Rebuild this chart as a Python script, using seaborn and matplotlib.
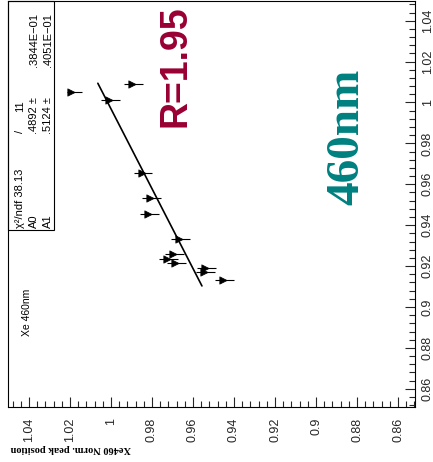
import matplotlib
matplotlib.use("Agg")
import matplotlib.pyplot as plt
import matplotlib.ticker as mticker
import numpy as np
import seaborn as sns
from matplotlib.patches import Rectangle

# Xe 460nm points: xe_x is the vertical (right) axis, xe_y the horizontal one
xe_x = [1.0090, 1.0053, 1.0012, 0.9654, 0.9534, 0.9453, 0.9333,
        0.9258, 0.9233, 0.9217, 0.9189, 0.9173, 0.9132]
xe_y = [0.9899, 1.0195, 1.0008, 0.9850, 0.9810, 0.9818, 0.9667,
        0.9696, 0.9725, 0.9688, 0.9541, 0.9546, 0.9455]
# asymmetric errors on xe_y (lower, upper)
err_lo = [0.0055, 0.0054, 0.0050, 0.0052, 0.0052, 0.0052, 0.0053,
          0.0052, 0.0050, 0.0052, 0.0054, 0.0054, 0.0054]
err_hi = [0.0040, 0.0020, 0.0040, 0.0040, 0.0040, 0.0040, 0.0040,
          0.0040, 0.0040, 0.0040, 0.0040, 0.0040, 0.0040]

# linear fit result  y = A0 + A1 * x
fit_a0 = 0.4892
fit_a1 = 0.5124
fit_lo, fit_hi = 0.9103, 1.0094

stats_rows = [
    ("χ²/ndf 38.13", "/", "11"),
    ("A0", ".4892 ±", ".3844E−01"),
    ("A1", ".5124 ±", ".4051E−01"),
]

W, H = 433, 462

sns.set_theme(style="white")
plt.rcParams['font.family'] = ['Liberation Sans', 'DejaVu Sans']

fig = plt.figure(figsize=(W / 100, H / 100), dpi=100)
ax = fig.add_axes([8 / W, (H - 407) / H, (415 - 8) / W, (407 - 1) / H])


def fx(px):
    return px / W


def fy(py):
    return 1 - py / H


# error bars + markers
ax.errorbar(xe_y, xe_x, xerr=[err_lo, err_hi], fmt='none',
            ecolor='black', elinewidth=0.8, capsize=0, zorder=2)
sns.scatterplot(x=xe_y, y=xe_x, marker='>', s=28, color='black',
                edgecolor='black', linewidth=0.5, legend=False, ax=ax, zorder=3)

# fit line
fit_v = np.array([fit_lo, fit_hi])
fit_h = fit_a0 + fit_a1 * fit_v
sns.lineplot(x=fit_h, y=fit_v, sort=False, estimator=None,
             color='black', linewidth=1.2, ax=ax)

ax.set_xlim(1.05024, 0.85171)
ax.set_ylim(0.85110, 1.04963)

fmt = mticker.FuncFormatter(lambda v, p: f"{v:g}")
for axis in (ax.xaxis, ax.yaxis):
    axis.set_major_locator(mticker.MultipleLocator(0.02))
    axis.set_minor_locator(mticker.AutoMinorLocator(5))
    axis.set_major_formatter(fmt)

ax.yaxis.tick_right()
ax.tick_params(axis='x', which='both', direction='in', bottom=True, top=False,
               labelsize=9, labelrotation=90, pad=8, width=0.8)
ax.tick_params(axis='y', which='both', direction='in', right=True, left=False,
               labelsize=9, labelrotation=90, pad=5, width=0.8)
ax.tick_params(which='major', length=7)
ax.tick_params(which='minor', length=4)
fig.canvas.draw()
plt.setp(ax.get_yticklabels(), va='center')

for s in ax.spines.values():
    s.set_color('black')
    s.set_linewidth(0.8)

ax.set_xlabel('')
ax.set_ylabel('')

# stats box
ax.add_patch(Rectangle((0, (407 - 230) / 406), (54 - 8) / 407, 1 - (407 - 230) / 406,
                       transform=ax.transAxes, fill=False, edgecolor='black',
                       linewidth=0.8, clip_on=False, zorder=5))
line_x = [20, 34, 48]
for (name, mid, val), lx in zip(stats_rows, line_x):
    fig.text(fx(lx), fy(228), name, rotation=90, rotation_mode='anchor',
             ha='left', va='center', fontsize=8, color='black')
    if mid == "/":
        fig.text(fx(lx), fy(131), mid, rotation=90, rotation_mode='anchor',
                 ha='center', va='center', fontsize=8, color='black')
        fig.text(fx(lx), fy(100), val, rotation=90, rotation_mode='anchor',
                 ha='right', va='center', fontsize=8, color='black')
    else:
        fig.text(fx(lx), fy(97), mid, rotation=90, rotation_mode='anchor',
                 ha='right', va='center', fontsize=8, color='black')
        fig.text(fx(lx), fy(13), val, rotation=90, rotation_mode='anchor',
                 ha='right', va='center', fontsize=8, color='black')

fig.text(fx(27), fy(312), 'Xe 460nm', rotation=90, rotation_mode='anchor',
         ha='center', va='center', fontsize=7.5, color='black')

fig.text(fx(175), fy(66), 'R=1.95', rotation=90, rotation_mode='anchor',
         ha='center', va='center', fontsize=27, fontweight='bold',
         color='#990033', family='Liberation Sans')

fig.text(fx(347), fy(137), '460nm', rotation=90, rotation_mode='anchor',
         ha='center', va='center', fontsize=34, fontweight='bold',
         color='#008080', family='Liberation Serif')

fig.text(fx(71), fy(448), 'Xe460 Norm. peak position', rotation=180,
         ha='center', va='center', fontsize=7.5, fontweight='bold',
         color='black', family='Liberation Serif')

fig.savefig('out.png', dpi=100)
